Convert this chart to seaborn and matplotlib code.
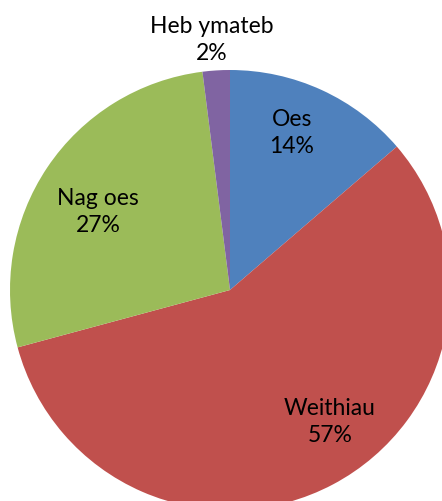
import matplotlib
matplotlib.use("Agg")
import matplotlib.pyplot as plt
import seaborn as sns

# slice data, clockwise from 12 o'clock
labels = ["Oes", "Weithiau", "Nag oes", "Heb ymateb"]
values = [13.7, 57.1, 27.2, 2.0]
colors = ["#4F81BD", "#C0504D", "#9BBB59", "#8064A2"]

# label positions in pixels (layout only)
label_pos = [(292, 133), (330, 422), (98, 212), (212, 40)]

sns.set_theme(style="white")
plt.rcParams["font.family"] = ["Lato", "DejaVu Sans"]

W, H = 442, 502
fig = plt.figure(figsize=(W / 100, H / 100), dpi=100)
ax = fig.add_axes([0, 0, 1, 1])

cx, cy, r = 230, H - 291, 220
ax.pie(values, colors=colors, startangle=90, counterclock=False,
       center=(cx, cy), radius=r, wedgeprops=dict(linewidth=0))

total = sum(values)
for lab, v, (px, py) in zip(labels, values, label_pos):
    ax.text(px, H - py, f"{lab}\n{v / total * 100:.0f}%", ha="center", va="center",
            fontsize=16.5, color="black", linespacing=1.3)

ax.set_xlim(0, W)
ax.set_ylim(0, H)
ax.set_aspect("equal")
ax.axis("off")

fig.savefig("out.png", dpi=100)
